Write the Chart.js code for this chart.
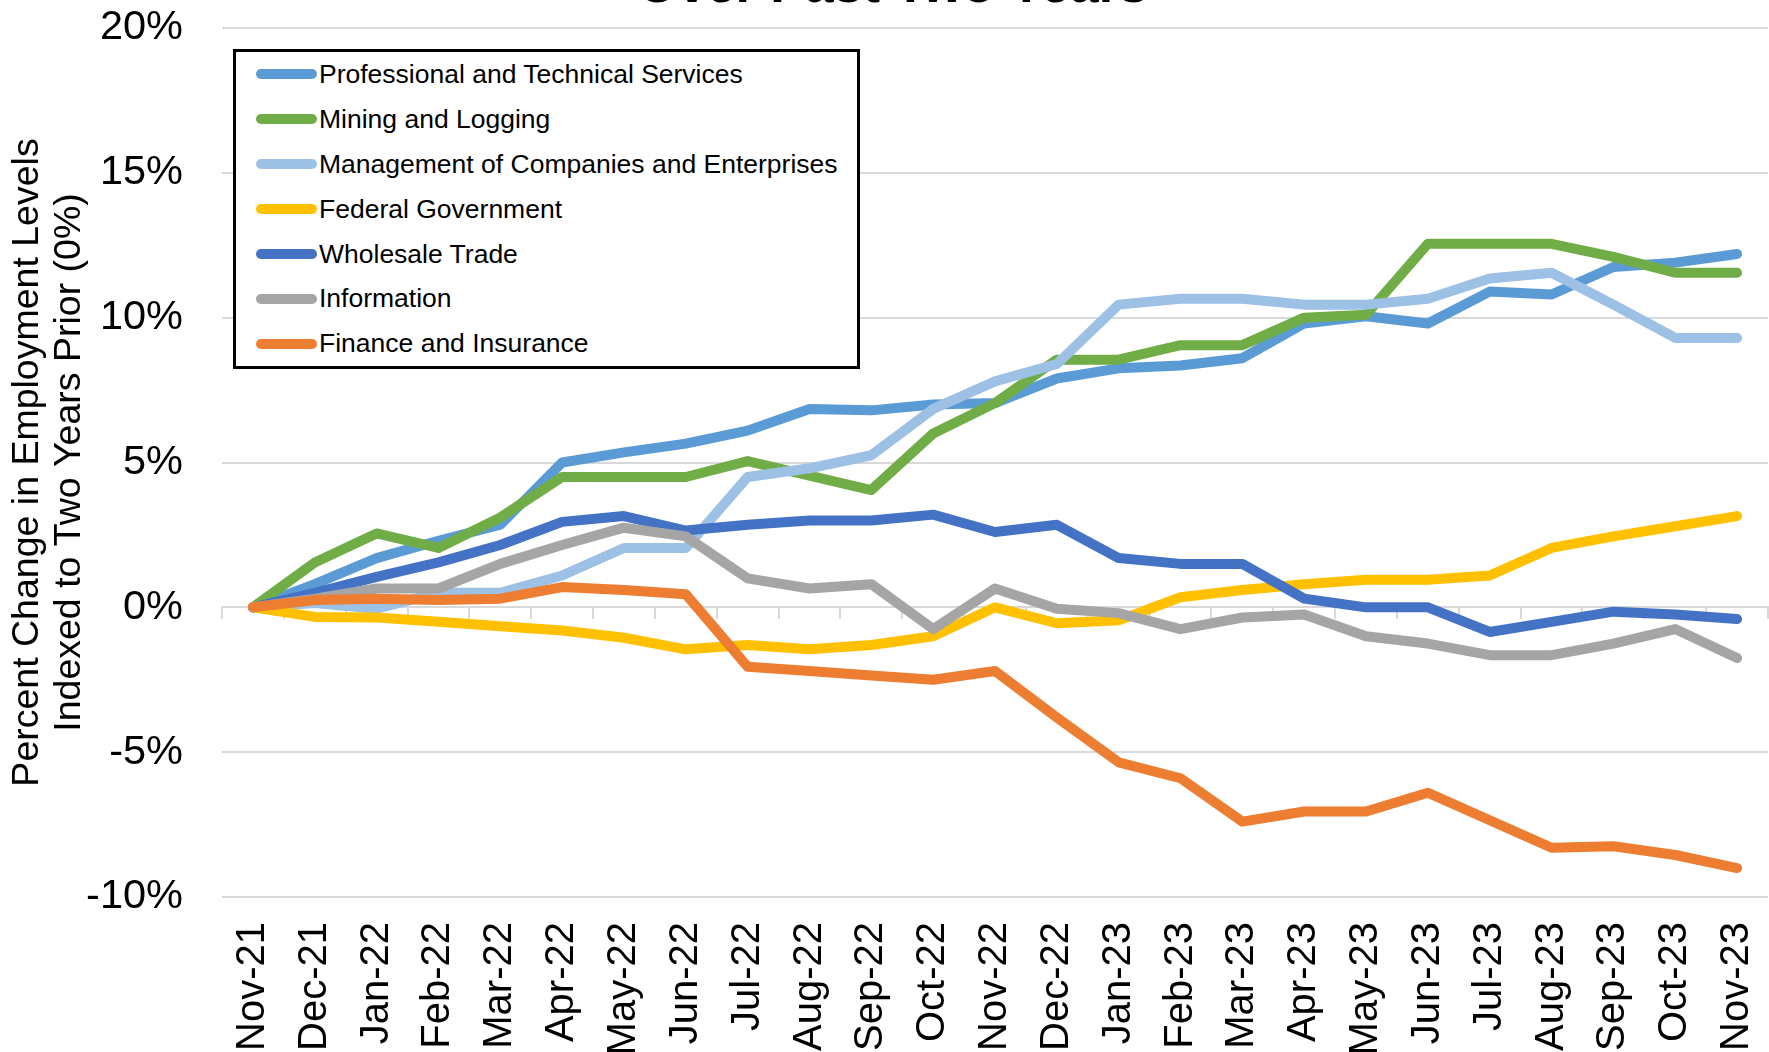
<!DOCTYPE html>
<html>
<head>
<meta charset="utf-8">
<script src="https://cdn.jsdelivr.net/npm/chart.js@4.4.1/dist/chart.umd.min.js"></script>
<style>
html,body{margin:0;padding:0;background:#fff}
#wrap{position:relative;width:1769px;height:1052px}
#legend{position:absolute;left:233px;top:49px;width:621px;border:3px solid #000;background:#fff;
  font:26.5px 'Liberation Sans',Arial,sans-serif;color:#000}
#legend .row{display:flex;align-items:center;height:44.9px;white-space:nowrap}
#legend .sw{width:61px;height:10px;border-radius:5px;margin:0 2px 0 20px;flex:none}
</style>
</head>
<body>
<div id="wrap">
  <canvas id="c" width="1769" height="1052"></canvas>
  <div id="legend"></div>
</div>
<script>
// data (percent change vs. two years prior)
const months=['Nov-21','Dec-21','Jan-22','Feb-22','Mar-22','Apr-22','May-22','Jun-22','Jul-22','Aug-22','Sep-22','Oct-22',
  'Nov-22','Dec-22','Jan-23','Feb-23','Mar-23','Apr-23','May-23','Jun-23','Jul-23','Aug-23','Sep-23','Oct-23','Nov-23'];
const profTech=[0,0.8,1.7,2.3,2.85,5.0,5.35,5.65,6.1,6.85,6.8,7.0,7.05,7.9,8.25,8.35,8.6,9.8,10.05,9.8,10.9,10.8,11.75,11.9,12.2];
const mining=[0,1.55,2.55,2.05,3.1,4.5,4.5,4.5,5.05,4.55,4.05,6.0,7.05,8.55,8.55,9.05,9.05,10.0,10.1,12.55,12.55,12.55,12.1,11.55,11.55];
const management=[0,0.15,-0.05,0.5,0.5,1.1,2.05,2.05,4.5,4.8,5.25,6.85,7.8,8.4,10.45,10.65,10.65,10.45,10.45,10.65,11.35,11.55,10.45,9.3,9.3];
const federal=[0,-0.33,-0.35,-0.5,-0.65,-0.8,-1.05,-1.45,-1.3,-1.45,-1.3,-1.0,0.0,-0.55,-0.45,0.35,0.6,0.8,0.95,0.95,1.1,2.05,2.45,2.8,3.15];
const wholesale=[0,0.5,1.05,1.55,2.15,2.95,3.15,2.65,2.85,3.0,3.0,3.2,2.6,2.85,1.7,1.5,1.5,0.3,0.0,0.0,-0.85,-0.5,-0.15,-0.25,-0.4];
const information=[0,0.3,0.65,0.65,1.5,2.15,2.75,2.45,1.0,0.65,0.8,-0.75,0.65,-0.05,-0.2,-0.75,-0.35,-0.25,-1.0,-1.25,-1.65,-1.65,-1.25,-0.75,-1.75];
const finance=[0,0.25,0.3,0.25,0.3,0.7,0.6,0.45,-2.05,-2.2,-2.35,-2.5,-2.2,-3.8,-5.35,-5.9,-7.4,-7.05,-7.05,-6.4,-7.35,-8.3,-8.25,-8.55,-9.0];

const seriesNames=['Professional and Technical Services','Mining and Logging','Management of Companies and Enterprises',
  'Federal Government','Wholesale Trade','Information','Finance and Insurance'];
const seriesData=[profTech,mining,management,federal,wholesale,information,finance];
const seriesColors=['#5B9BD5','#70AD47','#9DC0E5','#FFC000','#4472C4','#A5A5A5','#ED7D31'];
const yTicks=[-10,-5,0,5,10,15,20];

const FONT="'Liberation Sans', Arial, sans-serif";

// cut-off chart title at the very top
const topTitle={id:'topTitle',afterDraw(chart){
  const c=chart.ctx; c.save();
  c.font='bold 52px '+FONT; c.fillStyle='#000'; c.textAlign='center'; c.textBaseline='alphabetic';
  c.fillText('Over Past Two Years',chart.width/2+8,2);
  c.restore();
}};

const chart=new Chart(document.getElementById('c'),{
  type:'line',
  data:{labels:months,datasets:seriesData.map((d,i)=>({
    label:seriesNames[i],data:d,borderColor:seriesColors[i],backgroundColor:seriesColors[i],
    borderWidth:10,pointRadius:0,tension:0,borderJoinStyle:'round',borderCapStyle:'round',
    order:seriesData.length-i
  }))},
  options:{
    responsive:false,animation:false,devicePixelRatio:1,
    layout:{autoPadding:false,padding:{top:28,right:1,left:0,bottom:0}},
    plugins:{legend:{display:false},tooltip:{enabled:false}},
    scales:{
      x:{offset:true,grid:{display:false,drawTicks:false},border:{display:false},
        afterFit:s=>{s.height=155;s.paddingLeft=0;s.paddingRight=0;},
        ticks:{autoSkip:false,minRotation:90,maxRotation:90,padding:25,color:'#000',font:{family:FONT,size:40}}},
      x2:{type:'category',position:{y:0},offset:true,
        grid:{offset:true,drawOnChartArea:false,drawTicks:true,tickLength:11,color:'#d9d9d9',lineWidth:2},
        border:{display:true,color:'#d9d9d9',width:2},ticks:{display:false}},
      y:{min:-10,max:20,
        afterBuildTicks:s=>{s.ticks=yTicks.map(v=>({value:v}));},
        afterFit:s=>{s.width=222;s.paddingTop=0;s.paddingBottom=0;},
        grid:{color:'#d9d9d9',lineWidth:2,drawTicks:false},border:{display:false},
        ticks:{padding:39,color:'#000',font:{family:FONT,size:41.5},callback:v=>v+'%'},
        title:{display:true,text:['Percent Change in Employment Levels','Indexed to Two Years Prior (0%)'],
          color:'#000',font:{family:FONT,size:37.5,lineHeight:1.12},padding:{top:7,bottom:0}}}
    }
  },
  plugins:[topTitle]
});

// legend box built from the datasets
const lg=document.getElementById('legend');
chart.data.datasets.forEach(ds=>{
  const row=document.createElement('div'); row.className='row';
  const sw=document.createElement('span'); sw.className='sw'; sw.style.background=ds.borderColor;
  const tx=document.createElement('span'); tx.textContent=ds.label;
  row.appendChild(sw); row.appendChild(tx); lg.appendChild(row);
});
</script>
</body>
</html>
